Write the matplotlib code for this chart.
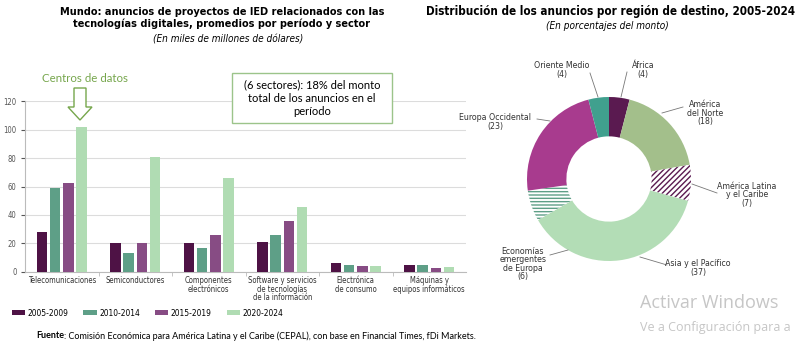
import numpy as np
import matplotlib
matplotlib.use("Agg")
import matplotlib.pyplot as plt
from matplotlib import font_manager
from matplotlib.font_manager import FontProperties
from matplotlib.patches import Polygon, Rectangle
from matplotlib.lines import Line2D

# --- data ---
sectors = ["Telecomunicaciones", "Semiconductores", "Componentes\nelectrónicos",
           "Software y servicios\nde tecnologías\nde la información",
           "Electrónica\nde consumo", "Máquinas y\nequipos informáticos"]
periods = ["2005-2009", "2010-2014", "2015-2019", "2020-2024"]
v2005 = [28, 20, 20, 21, 6.3, 5]
v2010 = [59, 13, 17, 25.6, 5, 4.5]
v2015 = [62.7, 20, 26, 35.7, 4, 2.8]
v2020 = [101.7, 80.8, 66, 45.6, 4, 3.2]
bar_colors = ["#4e1245", "#5e9f87", "#874c84", "#b0dcb3"]

regions = ["África\n(4)", "América\ndel Norte\n(18)", "América Latina\ny el Caribe\n(7)",
           "Asia y el Pacífico\n(37)", "Economías\nemergentes\nde Europa\n(6)",
           "Europa Occidental\n(23)", "Oriente Medio\n(4)"]
shares = [4, 18, 7, 37, 6, 23, 4]
pie_colors = ["#5a1a50", "#a3bf8b", "white", "#b3ddb6", "white", "#a83b8e", "#40a08e"]
pie_hatch = [None, None, "//////", None, "-----", None, None]
hatch_colors = [None, None, "#5a1a50", None, "#5e9f87", None, None]
# label layout (figure pixels): text centre, leader start, leader end
label_pos = [(643, 70), (705, 113), (747, 195), (698, 268), (523, 264), (495, 122), (562, 70)]
lead_a = [(627, 72), (683, 107), (717, 193), (667, 265), (550, 255), (537, 119), (590, 73)]
lead_b = [(621, 97), (662, 113), (692, 184), (640, 257), (568, 250), (550, 121), (598, 97)]

W, H = 800, 345

# condensed font if the system has one
_cpath = font_manager.findfont(FontProperties(family="DejaVu Sans", stretch="condensed"))
HAS_COND = "Condensed" in _cpath


def nf(size, weight="normal", style="normal"):
    if HAS_COND:
        return FontProperties(family="DejaVu Sans", stretch="condensed", size=size,
                              weight=weight, style=style)
    return FontProperties(family="Liberation Sans", size=size * 1.05, weight=weight,
                          style=style)


fig = plt.figure(figsize=(8, 3.45), dpi=100)


def fx(x):
    return x / W


def fy(y):
    return 1 - y / H


def fit(t, width_px):
    fig.canvas.draw()
    w = t.get_window_extent().width
    t.set_fontsize(t.get_fontsize() * width_px / w)


# --- left bar chart ---
ax = fig.add_axes([fx(25), fy(271.7), 441 / W, 170.4 / H])
x = np.arange(len(sectors))
step = 0.18
for i, (vals, c) in enumerate(zip([v2005, v2010, v2015, v2020], bar_colors)):
    ax.bar(x + (i - 1.5) * step, vals, width=0.14, color=c, label=periods[i], zorder=3)
ax.set_xlim(-0.5, len(sectors) - 0.5)
ax.set_ylim(0, 120)
ax.set_yticks(range(0, 121, 20))
ax.yaxis.grid(True, color="#dcdcdc", lw=0.8, zorder=0)
ax.set_xticks(x)
ax.set_xticklabels(sectors, fontproperties=nf(5.5), color="#333333", linespacing=0.95)
ax.set_xticks(x[:-1] + 0.5, minor=True)
ax.tick_params(axis="x", which="major", length=0, pad=3)
ax.tick_params(axis="x", which="minor", length=3, color="#bbbbbb")
ax.tick_params(axis="y", length=3, pad=3, colors="#555555")
for lab in ax.get_yticklabels():
    lab.set_fontproperties(nf(5.5))
for s in ["top", "right"]:
    ax.spines[s].set_visible(False)
ax.spines["left"].set_color("#bbbbbb")
ax.spines["bottom"].set_color("#bbbbbb")

# titles
t = fig.text(fx(222), fy(18), "Mundo: anuncios de proyectos de IED relacionados con las\n"
             "tecnologías digitales, promedios por período y sector",
             ha="center", va="center", fontproperties=nf(9, "bold"), linespacing=1.25)
fit(t, 325)
t = fig.text(fx(228), fy(40), "(En miles de millones de dólares)", ha="center", va="center",
             fontproperties=nf(6.5, style="italic"))
fit(t, 150)
t = fig.text(fx(610), fy(11), "Distribución de los anuncios por región de destino, 2005-2024",
             ha="center", va="center", fontproperties=nf(9, "bold"))
fit(t, 372)
t = fig.text(fx(607), fy(26), "(En porcentajes del monto)", ha="center", va="center",
             fontproperties=nf(6.5, style="italic"))
fit(t, 122)

# annotations
fig.text(fx(85), fy(78), "Centros de datos", ha="center", va="center",
         fontsize=8.3, color="#76a64c", family="Lato")
arrow = [(74, 88), (86, 88), (86, 107), (92, 107), (80, 120), (68, 107), (74, 107)]
fig.patches.append(Polygon([(fx(a), fy(b)) for a, b in arrow], closed=True,
                           facecolor="white", edgecolor="#76a64c", lw=1,
                           transform=fig.transFigure))
fig.patches.append(Rectangle((fx(232), fy(123)), 160 / W, 50 / H, facecolor="white",
                             edgecolor="#9cc48a", lw=1, transform=fig.transFigure))
fig.text(fx(312), fy(98), "(6 sectores): 18% del monto\ntotal de los anuncios en el\nperíodo",
         ha="center", va="center", fontsize=8, family="Lato", linespacing=1.3)

# legend
handles, labels = ax.get_legend_handles_labels()
fig.legend(handles, labels, loc="center left", bbox_to_anchor=(fx(4), fy(313)), ncol=4,
           frameon=False, handlelength=1.6, handleheight=0.6,
           handletextpad=0.3, columnspacing=1.8, prop=nf(6))

# source
t1 = fig.text(fx(36), fy(336), "Fuente", ha="left", va="center", fontsize=6.5,
              weight="bold", family="Lato")
fig.canvas.draw()
bb = t1.get_window_extent()
fig.text(bb.x1 / W, fy(336), ": Comisión Económica para América Latina y el Caribe (CEPAL), "
         "con base en Financial Times, fDi Markets.", ha="left", va="center",
         fontsize=6.5, family="Lato")

# --- right donut ---
R = 82
pax = fig.add_axes([fx(609 - R), fy(179 + R), 2 * R / W, 2 * R / H])
wedges, _ = pax.pie(shares, colors=pie_colors, startangle=90, counterclock=False,
                    radius=1, wedgeprops=dict(width=0.48, linewidth=0))
for w, h, hc in zip(wedges, pie_hatch, hatch_colors):
    if h:
        w.set_hatch(h)
        w.set_edgecolor(hc)
        w.set_linewidth(0)
pax.set_xlim(-1, 1)
pax.set_ylim(-1, 1)
pax.set_aspect("equal")
pax.axis("off")

for lab, (tx, ty), (ax0, ay0), (bx0, by0) in zip(regions, label_pos, lead_a, lead_b):
    fig.text(fx(tx), fy(ty), lab, ha="center", va="center", fontproperties=nf(6.3),
             color="#333333", linespacing=0.95)
    fig.lines.append(Line2D([fx(ax0), fx(bx0)], [fy(ay0), fy(by0)], color="#777777",
                            lw=0.6, transform=fig.transFigure))

# watermark
fig.text(fx(640), fy(303), "Activar Windows", ha="left", va="center",
         fontsize=13, color="#c6c6c6", family="Open Sans")
fig.text(fx(640), fy(327), "Ve a Configuración para a", ha="left", va="center",
         fontsize=9, color="#c6c6c6", family="Open Sans")

fig.savefig("out.png", dpi=100)
